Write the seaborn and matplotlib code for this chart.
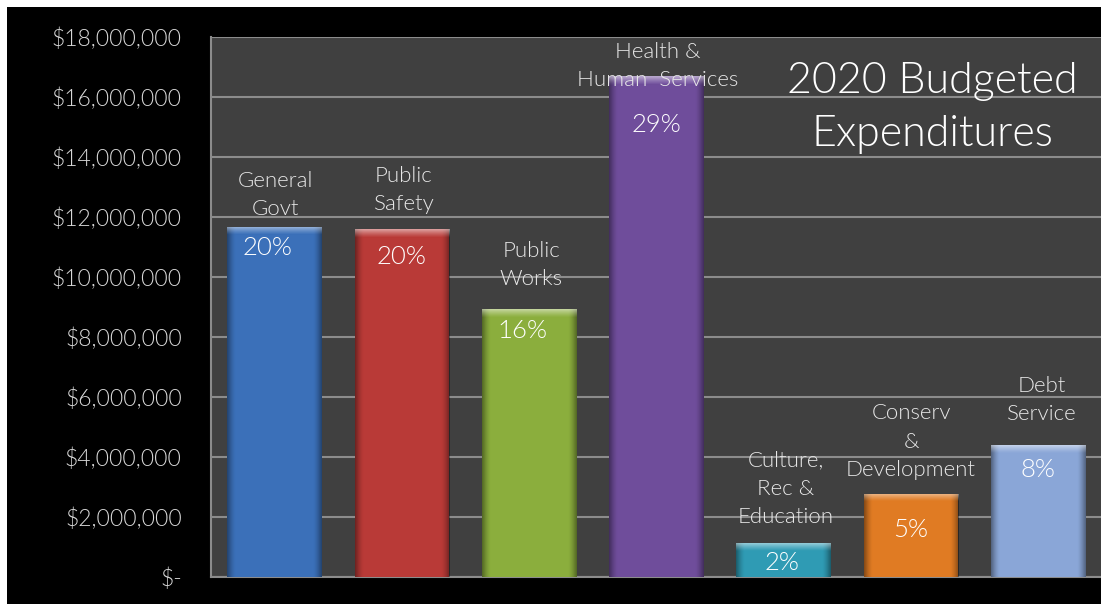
import numpy as np
import pandas as pd
import matplotlib
matplotlib.use("Agg")
import matplotlib.pyplot as plt
from matplotlib.patches import Rectangle
import seaborn as sns

# Budget categories and budgeted amounts (USD)
categories = [
    "General\nGovt",
    "Public\nSafety",
    "Public\nWorks",
    "Health &\nHuman  Services",
    "Culture,\nRec &\nEducation",
    "Conserv\n&\nDevelopment",
    "Debt\nService",
]
amounts = [11_670_000, 11_600_000, 8_930_000, 16_700_000, 1_130_000, 2_770_000, 4_400_000]
bar_colors = ["#3b70b9", "#b93a37", "#8bae3d", "#6f4d9b", "#2f9bb4", "#e07b23", "#8aa6d7"]
y_ticks = [0, 2e6, 4e6, 6e6, 8e6, 10e6, 12e6, 14e6, 16e6, 18e6]
y_tick_labels = ["$-", "$2,000,000", "$4,000,000", "$6,000,000", "$8,000,000",
                 "$10,000,000", "$12,000,000", "$14,000,000", "$16,000,000", "$18,000,000"]
title_text = "2020 Budgeted\nExpenditures"

# Label placement (pixels) relative to each bar top
name_offsets = [12, 19, 24, -10, 20, 18, 25]
name_dx = [1, 2, 2, 1, 2, 0, 3]
pct_offsets = [-21, -28, -22, -49, -20, -36, -25]
pct_dx = [-7, 0, -7, 0, -2, 0, 0]

df = pd.DataFrame({"category": categories, "amount": amounts})
df["share"] = df["amount"] / df["amount"].sum() * 100

sns.set_theme(style="dark")
plt.rcParams["font.family"] = ["Lato", "DejaVu Sans"]
LIGHT = 300

W, H = 1103, 604
fig = plt.figure(figsize=(W / 100, H / 100), dpi=100, facecolor="black")
ax = fig.add_axes([211 / W, (H - 577) / H, (1102 - 211) / W, (577 - 37) / H])
ax.set_facecolor("#404040")

sns.barplot(data=df, x="category", y="amount", hue="category", palette=bar_colors,
            width=0.745, saturation=1, legend=False, ax=ax, zorder=3,
            edgecolor="none", linewidth=0)

ax.set_xlim(-0.5, len(categories) - 0.5)
ax.set_ylim(0, 18e6)
px = 18e6 / 540.0

# Bevel shading on each bar: darker sides, light band along the top
for patch in ax.patches:
    x0, y0 = patch.get_x(), patch.get_y()
    w, h = patch.get_width(), patch.get_height()
    nr, nc = 300, 120
    u = np.linspace(0, 1, nc)
    side = np.clip(1 - np.minimum(u, 1 - u) / 0.09, 0, 1) ** 1.5
    vv = np.linspace(1, 0, nr)[:, None] * h
    top_dist = (h - vv) / px
    top = np.clip(1 - top_dist / 8.0, 0, 1) ** 1.2
    shade_a = np.broadcast_to(side[None, :] * 0.40, (nr, nc))
    hl_a = np.broadcast_to(top * 0.50, (nr, nc))
    a = hl_a + shade_a * (1 - hl_a)
    rgb_val = np.where(a > 0, hl_a / np.maximum(a, 1e-9), 0)
    rgba = np.zeros((nr, nc, 4))
    rgba[..., 0] = rgb_val
    rgba[..., 1] = rgb_val
    rgba[..., 2] = rgb_val
    rgba[..., 3] = a
    im = ax.imshow(rgba, extent=[x0, x0 + w, y0, y0 + h], aspect="auto",
                   zorder=4, interpolation="bilinear")
    im.set_clip_path(patch)

ax.set_xlim(-0.5, len(categories) - 0.5)
ax.set_ylim(0, 18e6)

ax.set_yticks(y_ticks)
ax.set_yticklabels(y_tick_labels, fontweight=LIGHT)
ax.tick_params(axis="y", length=0, pad=21, labelsize=16.5, labelcolor="#d8d8d8")
ax.tick_params(axis="x", length=0, labelbottom=False)
ax.set_xlabel("")
ax.set_ylabel("")
ax.grid(axis="y", color="#8c8c8c", linewidth=1.5, zorder=1)
ax.grid(axis="x", visible=False)
ax.set_axisbelow(True)
for side_name in ["left", "bottom"]:
    ax.spines[side_name].set_visible(True)
    ax.spines[side_name].set_color("#8c8c8c")
    ax.spines[side_name].set_linewidth(1.5)
for side_name in ["top", "right"]:
    ax.spines[side_name].set_visible(False)

for i, (name, amt, share) in enumerate(zip(df["category"], df["amount"], df["share"])):
    ax.annotate(name, xy=(i, amt), xytext=(name_dx[i], name_offsets[i]),
                textcoords="offset pixels", ha="center", va="baseline",
                fontsize=16, color="#e8e8e8", linespacing=1.52, zorder=6,
                fontweight=LIGHT)
    ax.annotate(f"{share:.0f}%", xy=(i, amt), xytext=(pct_dx[i], pct_offsets[i]),
                textcoords="offset pixels", ha="center", va="center",
                fontsize=18.5, color="white", zorder=6, fontweight=LIGHT)

ax.text(932 / W, (H - 108) / H, title_text, transform=fig.transFigure, ha="center",
        va="center", fontsize=31, color="white", linespacing=1.48, zorder=6,
        fontweight=LIGHT)

# White frame strips along the top, left and right edges
for rect in [(0, (H - 7) / H, 1, 7 / H), (0, 0, 7 / W, 1), ((W - 2) / W, 0, 2 / W, 1)]:
    fig.add_artist(Rectangle(rect[:2], rect[2], rect[3], transform=fig.transFigure,
                             facecolor="white", edgecolor="none", zorder=10))

fig.savefig("out.png", dpi=100, facecolor="black")
